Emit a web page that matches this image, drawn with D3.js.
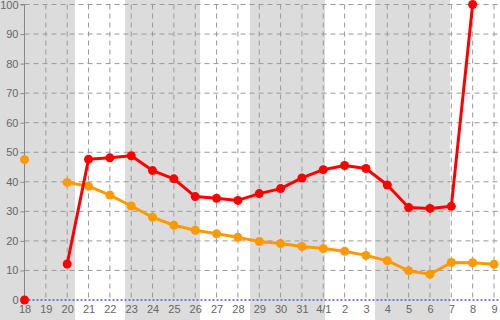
<!DOCTYPE html>
<html><head><meta charset="utf-8">
<script src="https://cdn.jsdelivr.net/npm/d3@7"></script>
<style>html,body{margin:0;padding:0;background:#fff;}svg{display:block;}</style>
</head><body>
<svg id="c" width="500" height="320"></svg>
<script>
const categories = ["18","19","20","21","22","23","24","25","26","27","28","29","30","31","4/1","2","3","4","5","6","7","8","9"];
const redValues = [0,null,12.2,47.6,48.1,48.8,43.8,41.0,35.0,34.4,33.7,36.0,37.7,41.3,44.1,45.5,44.5,38.9,31.3,31.0,31.7,100,null];
const orangeValues = [47.5,null,39.8,38.5,35.5,31.8,28.0,25.3,23.6,22.4,21.2,19.8,19.1,18.1,17.4,16.5,15.1,13.3,9.9,8.7,12.7,12.6,12.1];
const yTicks = [0,10,20,30,40,50,60,70,80,90,100];

const W = 500, H = 320;
const m = {l:24.5, r:6, t:4.5, b:20};
const svg = d3.select("#c");

// background bands
const bands = [[0,75],[125,200],[250,325],[375,450]];
svg.selectAll("rect.band").data(bands).enter().append("rect")
  .attr("x", d=>d[0]).attr("y",0).attr("width", d=>d[1]-d[0]).attr("height",H)
  .attr("fill","#dcdcdc");

const x = d3.scalePoint().domain(categories).range([m.l, W-m.r]);
const y = d3.scaleLinear().domain([0,100]).range([H-m.b, m.t]);

// horizontal grid
svg.append("g").selectAll("line").data(yTicks.filter(t=>t>0)).enter().append("line")
  .attr("x1", m.l).attr("x2", W).attr("y1", d=>y(d)).attr("y2", d=>y(d))
  .attr("stroke","#999").attr("stroke-dasharray","5,4").attr("stroke-width",1);
// vertical grid
svg.append("g").selectAll("line").data(categories.slice(1)).enter().append("line")
  .attr("x1", d=>x(d)).attr("x2", d=>x(d)).attr("y1", y(100)).attr("y2", y(0))
  .attr("stroke","#999").attr("stroke-dasharray","5,4").attr("stroke-width",1);

// y axis
const yAxis = d3.axisLeft(y).tickValues(yTicks).tickSize(4).tickPadding(2);
const gy = svg.append("g").attr("transform",`translate(${m.l},0)`).call(yAxis);
gy.select(".domain").attr("stroke","#888").attr("d",`M-4,${y(100)}H0V${y(0)}`);
gy.selectAll(".tick line").attr("stroke","#888");
gy.selectAll("text").attr("fill","#666").attr("font-size","11px").attr("font-family","'Liberation Sans', Arial, sans-serif");

// x axis labels
const xAxis = d3.axisBottom(x).tickSize(0).tickPadding(5);
const gx = svg.append("g").attr("transform",`translate(0,${y(0)})`).call(xAxis);
gx.select(".domain").remove();
gx.selectAll("text").attr("fill","#666").attr("font-size","11px").attr("font-family","'Liberation Sans', Arial, sans-serif");

// zero dotted line
svg.append("line").attr("x1", m.l).attr("x2", W).attr("y1", y(0)).attr("y2", y(0))
  .attr("stroke","#5555cc").attr("stroke-width",1.5).attr("stroke-dasharray","2,2");

function drawSeries(vals, color){
  const data = categories.map((c,i)=>({c, v: vals[i]}));
  const line = d3.line().defined(d=>d.v!==null).x(d=>x(d.c)).y(d=>y(d.v));
  svg.append("path").datum(data).attr("d", line).attr("fill","none")
    .attr("stroke", color).attr("stroke-width",3).attr("stroke-linejoin","round");
  svg.append("g").selectAll("circle").data(data.filter(d=>d.v!==null)).enter().append("circle")
    .attr("cx", d=>x(d.c)).attr("cy", d=>y(d.v)).attr("r",4.5).attr("fill", color);
}
drawSeries(orangeValues, "#ff9900");
drawSeries(redValues, "#ff0000");
</script>
</body></html>
